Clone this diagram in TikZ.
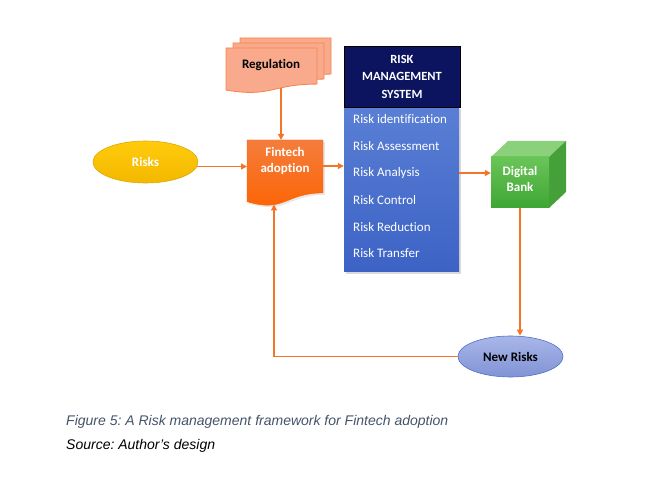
\documentclass[tikz,border=0pt]{standalone}
\usepackage{fontspec}
\setmainfont{Carlito}[Ligatures=NoCommon]
\newfontfamily\capfont{Liberation Sans}
\usetikzlibrary{shapes.geometric,arrows.meta,calc}
\frenchspacing
\definecolor{arrorange}{HTML}{F47528}
\definecolor{regfill}{HTML}{F9AA8C}
\definecolor{regdraw}{HTML}{F5834A}
\definecolor{fintop}{HTML}{F47D3C}
\definecolor{finbot}{HTML}{FD6200}
\definecolor{risktop}{HTML}{FFCB0C}
\definecolor{riskbot}{HTML}{F3B800}
\definecolor{riskdraw}{HTML}{DDA900}
\definecolor{navy}{HTML}{0C1460}
\definecolor{rmstop}{HTML}{5A7FD5}
\definecolor{rmsbot}{HTML}{3C62C5}
\definecolor{banktop}{HTML}{6AC558}
\definecolor{bankbot}{HTML}{3DA633}
\definecolor{bankupper}{HTML}{8BD07B}
\definecolor{bankside}{HTML}{46A03A}
\definecolor{nrtop}{HTML}{A9B6E8}
\definecolor{nrbot}{HTML}{8193D6}
\definecolor{nrdraw}{HTML}{4A72C8}
\definecolor{capcol}{HTML}{44546A}
\newcommand{\docpath}[4]{(#1,#2) -- ({#1+#3},#2) -- ({#1+#3},{#2+0.802*#4}) .. controls ({#1+0.5*#3},{#2+0.802*#4}) and ({#1+0.5*#3},{#2+1.107*#4}) .. (#1,{#2+0.934*#4}) -- cycle}
\begin{document}
\begin{tikzpicture}[x=1pt,y=-1pt,
  conn/.style={draw=arrorange, line width=1.3pt, -{Triangle[length=6pt,width=6pt]}},
  lbl/.style={font=\bfseries\fontsize{13}{16}\selectfont, text=white, align=center, inner sep=0pt},
  item/.style={font=\fontsize{13}{15}\selectfont, text=white, anchor=west, inner sep=0pt},
  regdoc/.style={fill=regfill, draw=regdraw, line width=0.8pt},
  captxt/.style={anchor=west, inner sep=0pt, font=\capfont\itshape\fontsize{14}{16}\selectfont},
]
\useasboundingbox (0,0) rectangle (656,494);
\fill[white] (0,0) rectangle (656,494);

% Regulation (multi-document)
\draw[regdoc] \docpath{240}{38}{91}{45};
\draw[regdoc] \docpath{233}{43}{91}{45};
\draw[regdoc] \docpath{226}{48}{91}{45};
\node[lbl, text=black] (reg) at (271,65) {Regulation};
\coordinate (regS) at (281,88);

% Fintech adoption (document)
\fill[gray!18] \docpath{249}{142}{76}{66};
\shade[top color=fintop, bottom color=finbot, draw=finbot, line width=0.4pt] \docpath{247}{140}{76}{66};
\node[lbl] (fintech) at (285,161) {Fintech\\adoption};
\coordinate (finN) at (281,140);
\coordinate (finW) at (247,166);
\coordinate (finE) at (323,166);
\coordinate (finS) at (274,204.5);

% Risks
\node[ellipse, minimum width=105pt, minimum height=42pt, inner sep=0pt,
  top color=risktop, bottom color=riskbot, draw=riskdraw, line width=0.6pt,
  lbl] (risks) at (145.5,162) {Risks};

% Risk management system
\fill[gray!30] (346,109) rectangle (461,274);
\node[rectangle, minimum width=115pt, minimum height=165pt, inner sep=0pt,
  top color=rmstop, bottom color=rmsbot] (rmsbody) at (401.5,189.5) {};
\node[rectangle, minimum width=116pt, minimum height=61pt, inner sep=0pt,
  fill=navy, draw=black, line width=0.6pt, lbl,
  font=\bfseries\fontsize{12.5}{17.5}\selectfont] (rmshead) at (402,76.5) {RISK\\MANAGEMENT\\SYSTEM};
\node[item] (i1) at (353,119) {Risk identification};
\node[item] (i2) at (353,146) {Risk Assessment};
\node[item] (i3) at (353,173) {Risk Analysis};
\node[item] (i4) at (353,200) {Risk Control};
\node[item] (i5) at (353,227) {Risk Reduction};
\node[item] (i6) at (353,253.5) {Risk Transfer};

% Digital Bank (cube)
\fill[bankupper] (491,157) -- (508,141) -- (566,141) -- (549,157) -- cycle;
\fill[bankside] (549,157) -- (566,141) -- (566,192) -- (549,208) -- cycle;
\node[rectangle, minimum width=58pt, minimum height=51pt, inner sep=0pt,
  top color=banktop, bottom color=bankbot, lbl] (bank) at (520,182.5) {};
\node[lbl] (banklbl) at (520,179) {Digital\\Bank};

% New Risks
\node[ellipse, minimum width=105pt, minimum height=41pt, inner sep=0pt,
  top color=nrtop, bottom color=nrbot, draw=nrdraw, line width=0.6pt,
  lbl, text=black] (newrisks) at (510.5,356.5) {New Risks};

% Connectors
\draw[conn] (regS) -- (finN);
\draw[conn] (risks.-5) -- (risks.-5 -| finW);
\draw[conn] (finE) -- (finE -| rmsbody.west);
\draw[conn] (i3 -| rmsbody.east) -- (i3 -| bank.west);
\draw[conn] (bank.south) -- (bank.south |- newrisks.north);
\draw[conn] (newrisks.west) -| (finS);

% Caption
\node[captxt, text=capcol] (cap1) at (66,422) {Figure 5: A Risk management framework for Fintech adoption};
\node[captxt, text=black] (cap2) at (66,446) {Source: Author’s design};
\end{tikzpicture}
\end{document}
